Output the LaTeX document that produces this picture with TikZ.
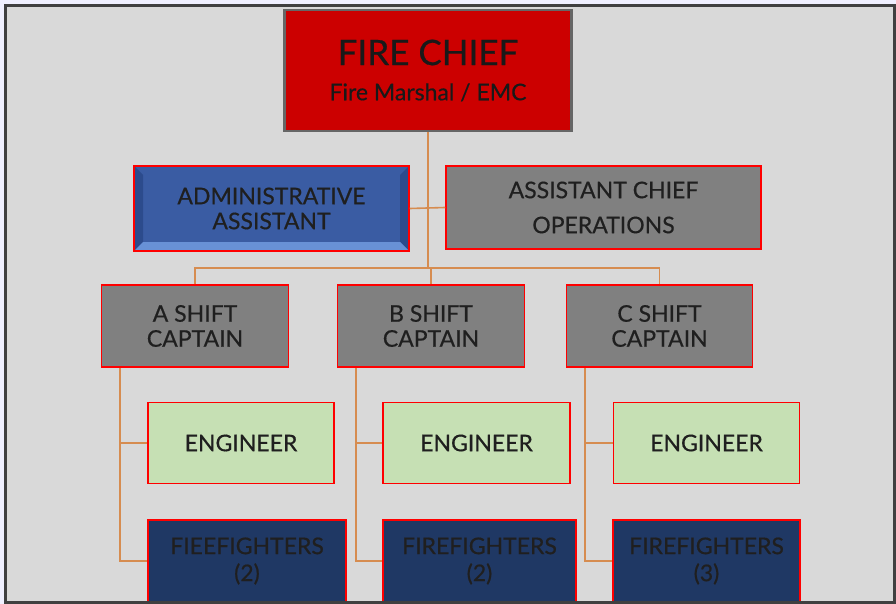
\documentclass[tikz,border=0pt]{standalone}
\usepackage{fontspec}
\setmainfont{Lato}[UprightFeatures={FakeBold=0.5}]
\definecolor{chiefred}{RGB}{204,0,0}
\definecolor{boxgrey}{RGB}{128,128,128}
\definecolor{engreen}{RGB}{198,224,180}
\definecolor{ffnavy}{RGB}{31,56,100}
\definecolor{adminblue}{RGB}{58,92,163}
\definecolor{adminlight}{RGB}{104,145,214}
\definecolor{admindark}{RGB}{44,75,140}
\definecolor{linkorange}{RGB}{214,140,80}
\definecolor{backgrey}{RGB}{217,217,217}
\tikzset{
	box/.style={draw=red, line width=1.5pt, inner sep=0pt, align=center,
		text=black!88, font=\fontsize{23}{25}\selectfont},
	greybox/.style={box, fill=boxgrey},
	engbox/.style={box, fill=engreen, minimum height=81pt},
	ffbox/.style={box, fill=ffnavy, minimum height=82pt, font=\fontsize{23}{27}\selectfont},
	adminbox/.style={box, fill=adminblue,
		path picture={
			\fill[admindark] (path picture bounding box.south west) -- ++(9pt,9pt)
			|- ([xshift=9pt,yshift=-9pt]path picture bounding box.north west)
			-- (path picture bounding box.north west) -- cycle;
			\fill[admindark] (path picture bounding box.south east) -- ++(-9pt,9pt)
			|- ([xshift=-9pt,yshift=-9pt]path picture bounding box.north east)
			-- (path picture bounding box.north east) -- cycle;
			\fill[adminlight] (path picture bounding box.south west) -- ++(9pt,9pt)
			-| ([xshift=-9pt,yshift=9pt]path picture bounding box.south east)
			-- (path picture bounding box.south east) -- cycle;
		}},
	link/.style={draw=linkorange, line width=1.6pt}
}
\begin{document}
\begin{tikzpicture}[x=1pt,y=-1pt]
	\useasboundingbox (0,0) rectangle (896,604);
	\fill[white!94!blue] (0,0) rectangle (896,604);
	\fill[backgrey] (5,6) rectangle (894,602);
	% top of the chart
	\node[draw=black!60, line width=2.5pt, fill=chiefred, minimum width=287pt,
		minimum height=121pt, align=center, text=black!90] (chief) at (428,70.5)
		{\fontsize{35}{43}\selectfont FIRE CHIEF\\[17pt]
		\fontsize{23}{25}\selectfont Fire Marshal / EMC};
	\node[adminbox, minimum width=275pt, minimum height=85pt] (admin) at (271.5,208.5)
		{ADMINISTRATIVE\\ASSISTANT};
	\node[greybox, minimum width=315pt, minimum height=83pt,
		font=\fontsize{23}{35}\selectfont] (ops) at (603.5,207.5)
		{ASSISTANT CHIEF\\OPERATIONS};
	% captains
	\node[greybox, minimum width=187pt, minimum height=82pt] (capA) at (195,326)
		{A SHIFT\\CAPTAIN};
	\node[greybox, minimum width=187pt, minimum height=82pt] (capB) at (431,326)
		{B SHIFT\\CAPTAIN};
	\node[greybox, minimum width=186pt, minimum height=82pt] (capC) at (659.5,326)
		{C SHIFT\\CAPTAIN};
	% engineers
	\node[engbox, minimum width=186pt] (engA) at (241,443) {ENGINEER};
	\node[engbox, minimum width=187pt] (engB) at (476.5,443) {ENGINEER};
	\node[engbox, minimum width=186pt] (engC) at (706.5,443) {ENGINEER};
	% firefighters
	\node[ffbox, minimum width=198pt] (ffA) at (247,561) {FIEEFIGHTERS\\(2)};
	\node[ffbox, minimum width=193pt] (ffB) at (479.5,561) {FIREFIGHTERS\\(2)};
	\node[ffbox, minimum width=187pt] (ffC) at (706.5,561) {FIREFIGHTERS\\(3)};
	% connectors
	\coordinate (bus) at (0,268);
	\draw[link] (chief.south) -- (chief.south |- bus);
	\draw[link] (admin.east) -- (ops.west);
	\draw[link] (capA.north) -- (capA.north |- bus) -| (capC.north);
	\draw[link] (capB.north) -- (capB.north |- bus);
	\draw[link] ([xshift=19pt]capA.south west) |- (ffA.west);
	\draw[link] ([xshift=19pt]capA.south west |- engA.west) -- (engA.west);
	\draw[link] ([xshift=19pt]capB.south west) |- (ffB.west);
	\draw[link] ([xshift=19pt]capB.south west |- engB.west) -- (engB.west);
	\draw[link] ([xshift=19pt]capC.south west) |- (ffC.west);
	\draw[link] ([xshift=19pt]capC.south west |- engC.west) -- (engC.west);
	% frame
	\draw[black!75, line width=3pt] (5,6) rectangle (894,602);
\end{tikzpicture}
\end{document}
